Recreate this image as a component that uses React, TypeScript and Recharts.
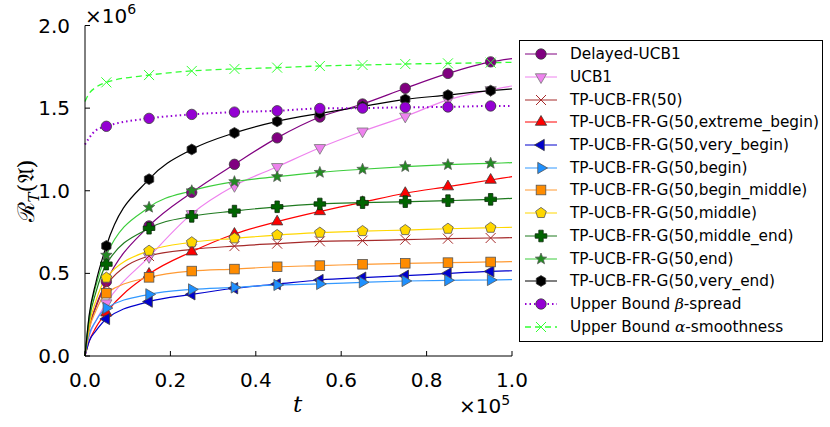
import React from 'react';
import { LineChart, Line, XAxis, YAxis, Legend } from 'recharts';

// time axis in units of 1e5, regret in units of 1e6
const T = [0, 0.01, 0.025, 0.05, 0.15, 0.25, 0.35, 0.45, 0.55, 0.65, 0.75, 0.85, 0.95, 1.0];
const MARKER_T = [0.05, 0.15, 0.25, 0.35, 0.45, 0.55, 0.65, 0.75, 0.85, 0.95];

const delayedUcb1 = [0, 0.17, 0.3, 0.45, 0.787, 0.99, 1.16, 1.32, 1.446, 1.525, 1.62, 1.71, 1.78, 1.8];
const ucb1 = [0, 0.12, 0.21, 0.32, 0.6, 0.86, 1.03, 1.145, 1.26, 1.36, 1.45, 1.55, 1.61, 1.634];
const fr50 = [0, 0.17, 0.29, 0.43, 0.605, 0.645, 0.665, 0.68, 0.694, 0.698, 0.704, 0.71, 0.714, 0.716];
const extremeBegin = [0, 0.09, 0.17, 0.262, 0.496, 0.631, 0.738, 0.813, 0.875, 0.93, 0.985, 1.025, 1.065, 1.085];
const veryBegin = [0, 0.09, 0.15, 0.224, 0.329, 0.373, 0.41, 0.435, 0.46, 0.474, 0.486, 0.5, 0.512, 0.516];
const begin = [0, 0.13, 0.21, 0.29, 0.373, 0.403, 0.415, 0.43, 0.436, 0.446, 0.454, 0.458, 0.46, 0.462];
const beginMiddle = [0, 0.16, 0.27, 0.38, 0.476, 0.514, 0.526, 0.54, 0.547, 0.555, 0.561, 0.565, 0.569, 0.571];
const middle = [0, 0.19, 0.33, 0.474, 0.637, 0.688, 0.712, 0.732, 0.746, 0.756, 0.762, 0.77, 0.776, 0.779];
const middleEnd = [0, 0.22, 0.38, 0.556, 0.773, 0.845, 0.877, 0.903, 0.92, 0.928, 0.934, 0.94, 0.948, 0.954];
const endSeries = [0, 0.24, 0.42, 0.61, 0.9, 1.0, 1.055, 1.085, 1.111, 1.13, 1.146, 1.158, 1.166, 1.17];
const veryEnd = [0, 0.25, 0.44, 0.666, 1.07, 1.25, 1.35, 1.42, 1.468, 1.51, 1.553, 1.579, 1.606, 1.616];
const betaSpread = [1.28, 1.32, 1.365, 1.39, 1.438, 1.462, 1.476, 1.484, 1.498, 1.5, 1.505, 1.507, 1.513, 1.513];
const alphaSmooth = [1.54, 1.59, 1.625, 1.656, 1.7, 1.725, 1.737, 1.745, 1.755, 1.761, 1.767, 1.771, 1.775, 1.777];

const xTicks = [0, 0.2, 0.4, 0.6, 0.8, 1.0];
const yTicks = [0, 0.5, 1.0, 1.5, 2.0];

type Shape = 'circle' | 'triDown' | 'x' | 'triUp' | 'triLeft' | 'triRight' | 'square' | 'pentagon' | 'plus' | 'star' | 'hexagon';

interface SeriesDef {
  key: string;
  name: React.ReactNode;
  values: number[];
  color: string;
  fill: string;
  shape: Shape;
  dash?: string;
  width?: number;
}

const series: SeriesDef[] = [
  { key: 'delayed', name: 'Delayed-UCB1', values: delayedUcb1, color: '#800080', fill: '#800080', shape: 'circle' },
  { key: 'ucb1', name: 'UCB1', values: ucb1, color: '#ee82ee', fill: '#ee82ee', shape: 'triDown' },
  { key: 'fr50', name: 'TP-UCB-FR(50)', values: fr50, color: '#a52a2a', fill: 'none', shape: 'x' },
  { key: 'extreme', name: 'TP-UCB-FR-G(50,extreme_begin)', values: extremeBegin, color: '#ff0000', fill: '#ff0000', shape: 'triUp' },
  { key: 'veryBegin', name: 'TP-UCB-FR-G(50,very_begin)', values: veryBegin, color: '#0000cd', fill: '#0000cd', shape: 'triLeft' },
  { key: 'begin', name: 'TP-UCB-FR-G(50,begin)', values: begin, color: '#3399ff', fill: '#1e90ff', shape: 'triRight' },
  { key: 'beginMiddle', name: 'TP-UCB-FR-G(50,begin_middle)', values: beginMiddle, color: '#ff9a33', fill: '#ff8c00', shape: 'square' },
  { key: 'middle', name: 'TP-UCB-FR-G(50,middle)', values: middle, color: '#ffd700', fill: '#ffd700', shape: 'pentagon' },
  { key: 'middleEnd', name: 'TP-UCB-FR-G(50,middle_end)', values: middleEnd, color: '#1f7a1f', fill: '#006400', shape: 'plus' },
  { key: 'end', name: 'TP-UCB-FR-G(50,end)', values: endSeries, color: '#3ccd3c', fill: '#228b22', shape: 'star' },
  { key: 'veryEnd', name: 'TP-UCB-FR-G(50,very_end)', values: veryEnd, color: '#000000', fill: '#000000', shape: 'hexagon' },
  {
    key: 'beta',
    name: (
      <>
        Upper Bound <i style={{ fontFamily: 'DejaVu Serif' }}>β</i>-spread
      </>
    ),
    values: betaSpread, color: '#9400d3', fill: '#9400d3', shape: 'circle', dash: '1.5 3', width: 2,
  },
  {
    key: 'alpha',
    name: (
      <>
        Upper Bound <i style={{ fontFamily: 'DejaVu Serif' }}>α</i>-smoothness
      </>
    ),
    values: alphaSmooth, color: '#33ff33', fill: 'none', shape: 'x', dash: '6 4', width: 1.3,
  },
];

const data = T.map((t, i) => {
  const row: Record<string, number> = { t };
  series.forEach((s) => {
    row[s.key] = s.values[i];
  });
  return row;
});

function polygon(cx: number, cy: number, r: number, n: number, rot: number) {
  const pts: string[] = [];
  for (let k = 0; k < n; k++) {
    const a = rot + (k * 2 * Math.PI) / n;
    pts.push(`${cx + r * Math.cos(a)},${cy + r * Math.sin(a)}`);
  }
  return pts.join(' ');
}

function Marker({ shape, cx, cy, fill, color }: { shape: Shape; cx: number; cy: number; fill: string; color: string }) {
  const edge = '#3a3a3a';
  const up = -Math.PI / 2;
  switch (shape) {
    case 'circle':
      return <circle cx={cx} cy={cy} r={5.2} fill={fill} stroke={edge} strokeWidth={0.8} />;
    case 'triDown':
      return <polygon points={polygon(cx, cy, 6.5, 3, Math.PI / 2)} fill={fill} stroke="#777" strokeWidth={0.8} />;
    case 'triUp':
      return <polygon points={polygon(cx, cy, 6.5, 3, up)} fill={fill} stroke={edge} strokeWidth={0.8} />;
    case 'triLeft':
      return <polygon points={polygon(cx, cy, 6.5, 3, Math.PI)} fill={fill} stroke={edge} strokeWidth={0.8} />;
    case 'triRight':
      return <polygon points={polygon(cx, cy, 6.5, 3, 0)} fill={fill} stroke="#555" strokeWidth={0.8} />;
    case 'square':
      return <rect x={cx - 4.8} y={cy - 4.8} width={9.6} height={9.6} fill={fill} stroke="#555" strokeWidth={0.8} />;
    case 'pentagon':
      return <polygon points={polygon(cx, cy, 5.6, 5, up)} fill={fill} stroke="#555" strokeWidth={0.8} />;
    case 'hexagon':
      return <polygon points={polygon(cx, cy, 5.4, 6, up)} fill={fill} stroke={edge} strokeWidth={0.8} />;
    case 'plus': {
      const a = 5.8;
      const w = 2.2;
      const d = `M${cx - w},${cy - a}H${cx + w}V${cy - w}H${cx + a}V${cy + w}H${cx + w}V${cy + a}H${cx - w}V${cy + w}H${cx - a}V${cy - w}H${cx - w}Z`;
      return <path d={d} fill={fill} stroke="#0a2a0a" strokeWidth={0.8} />;
    }
    case 'star': {
      const pts: string[] = [];
      for (let k = 0; k < 10; k++) {
        const r = k % 2 === 0 ? 6 : 2.6;
        const ang = up + (k * Math.PI) / 5;
        pts.push(`${cx + r * Math.cos(ang)},${cy + r * Math.sin(ang)}`);
      }
      return <polygon points={pts.join(' ')} fill={fill} stroke="#555" strokeWidth={0.7} />;
    }
    case 'x':
    default: {
      const s = 5;
      return (
        <g stroke={color} strokeWidth={1}>
          <line x1={cx - s} y1={cy - s} x2={cx + s} y2={cy + s} />
          <line x1={cx - s} y1={cy + s} x2={cx + s} y2={cy - s} />
        </g>
      );
    }
  }
}

function makeDot(s: SeriesDef) {
  return (props: any) => {
    const { cx, cy, payload, index } = props;
    const key = `${s.key}-${index}`;
    if (cx == null || cy == null || !MARKER_T.includes(payload.t)) return <g key={key} />;
    return (
      <g key={key}>
        <Marker shape={s.shape} cx={cx} cy={cy} fill={s.fill} color={s.color} />
      </g>
    );
  };
}

function LegendBox() {
  return (
    <div
      style={{
        width: 304,
        height: 302,
        border: '1.3px solid #000',
        background: '#fff',
        boxSizing: 'border-box',
        paddingTop: 2,
        fontFamily: 'DejaVu Sans',
        fontSize: 15.3,
        color: '#000',
      }}
    >
      {series.map((s) => (
        <div key={s.key} style={{ display: 'flex', alignItems: 'center', height: 22.7 }}>
          <svg width={50} height={20} style={{ flex: 'none' }}>
            <line x1={5} y1={10} x2={37} y2={10} stroke={s.color} strokeWidth={s.width ?? 1} strokeDasharray={s.dash} />
            <Marker shape={s.shape} cx={21} cy={10} fill={s.fill} color={s.color} />
          </svg>
          <span style={{ whiteSpace: 'nowrap' }}>{s.name}</span>
        </div>
      ))}
    </div>
  );
}

const tickFont = { fontFamily: 'DejaVu Sans', fontSize: 20, fill: '#000' };

export default function App() {
  return (
    <div style={{ position: 'absolute', left: 0, top: 0, width: 830, height: 427, background: '#fff' }}>
      <LineChart width={830} height={427} data={data} margin={{ top: 25.5, right: 318, bottom: 0, left: 25 }}>
        <XAxis
          dataKey="t"
          type="number"
          domain={[0, 1]}
          ticks={xTicks}
          tickFormatter={(v: number) => v.toFixed(1)}
          height={71}
          tickSize={-5}
          tickMargin={21.5}
          tick={tickFont}
          stroke="#000"
          interval={0}
        />
        <XAxis
          xAxisId="top"
          orientation="top"
          type="number"
          domain={[0, 1]}
          ticks={xTicks}
          height={0}
          tickSize={-5}
          tick={false}
          stroke="#000"
          interval={0}
        />
        <YAxis
          type="number"
          domain={[0, 2]}
          ticks={yTicks}
          tickFormatter={(v: number) => v.toFixed(1)}
          width={60}
          tickSize={-5}
          tickMargin={20}
          tick={tickFont}
          stroke="#000"
          interval={0}
        />
        <YAxis
          yAxisId="right"
          orientation="right"
          type="number"
          domain={[0, 2]}
          ticks={yTicks}
          width={0}
          tickSize={-5}
          tick={false}
          stroke="#000"
          interval={0}
        />
        <Legend
          layout="horizontal"
          verticalAlign="middle"
          align="center"
          content={() => <LegendBox />}
          wrapperStyle={{ left: 519, top: 40, width: 304, height: 302 }}
        />
        {series.map((s) => (
          <Line
            key={s.key}
            dataKey={s.key}
            type="monotone"
            stroke={s.color}
            strokeWidth={s.width ?? 1.2}
            strokeDasharray={s.dash}
            dot={makeDot(s)}
            activeDot={false}
            isAnimationActive={false}
          />
        ))}
      </LineChart>
      <svg width={830} height={427} style={{ position: 'absolute', left: 0, top: 0, pointerEvents: 'none' }}>
        <text x={85} y={23} fontFamily="DejaVu Sans" fontSize={20} fill="#000">
          ×10<tspan dy={-9} fontSize={14}>6</tspan>
        </text>
        <text x={459} y={413} fontFamily="DejaVu Sans" fontSize={20} fill="#000">
          ×10<tspan dy={-8} fontSize={14}>5</tspan>
        </text>
        <text x={293} y={412} fontFamily="DejaVu Serif" fontStyle="italic" fontSize={23} fill="#000">
          t
        </text>
        <text
          transform="translate(34,191) rotate(-90)"
          textAnchor="middle"
          fontFamily="DejaVu Serif"
          fontSize={23}
          fill="#000"
        >
          ℛ<tspan fontSize={15} dy={5} fontStyle="italic">T</tspan>
          <tspan dy={-5}>(𝔄)</tspan>
        </text>
      </svg>
    </div>
  );
}
